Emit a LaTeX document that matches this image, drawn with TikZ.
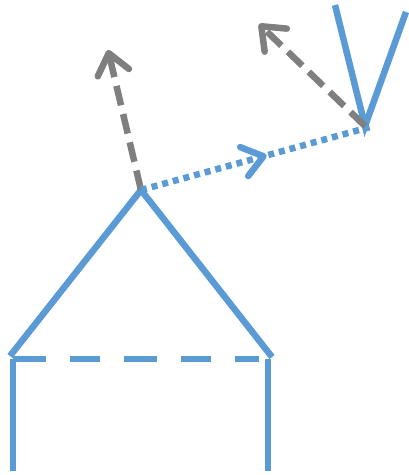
\documentclass[tikz,border=0pt]{standalone}
\usetikzlibrary{arrows.meta,decorations.markings}
\definecolor{bl}{HTML}{5B9BD5}
\definecolor{gr}{HTML}{7F7F7F}
\tikzset{
  blueline/.style={draw=bl,line width=6.5pt},
  grayarrow/.style={draw=gr,line width=6.5pt,dash pattern=on 20pt off 9pt,
    -{Straight Barb[length=20pt,width=32pt,round]}},
  dotline/.style={draw=bl,line width=6.5pt,dash pattern=on 6pt off 5pt},
  midarrow/.style={postaction={decorate,decoration={markings,
    mark=at position 0.535 with {\draw[bl,line width=6.5pt,solid,line cap=round,line join=round] (-20pt,15pt) -- (0,0) -- (-20pt,-15pt);}}}}
}
\begin{document}
\begin{tikzpicture}[x=1pt,y=-1pt]
\useasboundingbox (0,0) rectangle (408,475);
\coordinate (bl) at (13,471);
\coordinate (lc) at (13,359);
\coordinate (rc) at (268,359);
\coordinate (br) at (268,471);
\coordinate (apex) at (141,190);
\coordinate (ga) at (108,50);
\coordinate (vb) at (365,126);
\coordinate (vl) at (335,5);
\coordinate (vr) at (406,12);
\coordinate (gb) at (259,24);
% house
\draw[blueline] (bl) -- (lc);
\draw[blueline] (br) -- (rc);
\draw[blueline,line join=miter] (10,356) -- (apex) -- (272,357);
\draw[blueline,dash pattern=on 33pt off 24pt on 30pt off 24pt] (lc) -- (259,359);
% vectors
\draw[grayarrow] (apex) -- (ga);
\draw[dotline,midarrow] (apex) -- (370,127);
\draw[blueline,line join=miter] (vl) -- (vb) -- (vr);
\draw[grayarrow] (vb) -- (gb);
\end{tikzpicture}
\end{document}
